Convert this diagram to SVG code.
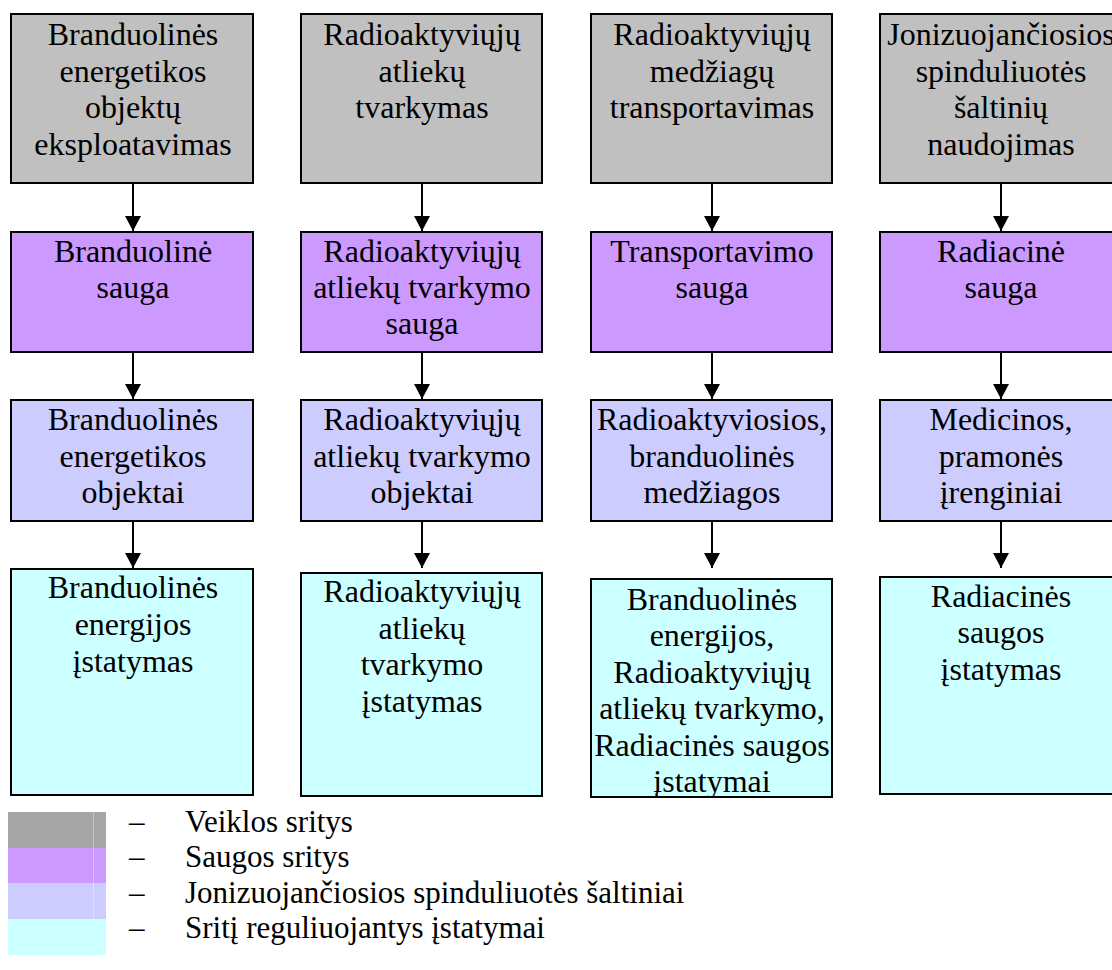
<svg xmlns="http://www.w3.org/2000/svg" width="1112" height="970" viewBox="0 0 1112 970">
<style>
.box{stroke:#000;stroke-width:2}
.g{fill:#C0C0C0}.p{fill:#CC99FF}.l{fill:#CCCCFF}.c{fill:#CCFFFF}
text{font-family:"Liberation Serif","Times New Roman",serif;font-size:32px;fill:#000}
.t{text-anchor:middle}
.lg{font-size:31px}
.conn line{stroke:#000;stroke-width:2}
</style>
<defs>
<marker id="ah" markerWidth="15" markerHeight="16" refX="15" refY="8" orient="auto" markerUnits="userSpaceOnUse">
<path d="M0,0 L15,8 L0,16 Z" fill="#000"/>
</marker>
<clipPath id="clip34"><rect x="591" y="579" width="241" height="218"/></clipPath>
</defs>
<rect width="1112" height="970" fill="#fff"/>

<g id="c1r1"><rect class="box g" x="11" y="14" width="242" height="169"/>
<text class="t" x="133" y="45">Branduolinės</text><text class="t" x="133" y="81.5">energetikos</text><text class="t" x="133" y="118">objektų</text><text class="t" x="133" y="154.5">eksploatavimas</text></g>
<g id="c2r1"><rect class="box g" x="301" y="14" width="241" height="169"/>
<text class="t" x="422" y="45">Radioaktyviųjų</text><text class="t" x="422" y="81.5">atliekų</text><text class="t" x="422" y="118">tvarkymas</text></g>
<g id="c3r1"><rect class="box g" x="591" y="14" width="241" height="169"/>
<text class="t" x="712" y="45">Radioaktyviųjų</text><text class="t" x="712" y="81.5">medžiagų</text><text class="t" x="712" y="118">transportavimas</text></g>
<g id="c4r1"><rect class="box g" x="880" y="14" width="242" height="169"/>
<text class="t" x="1001" y="45">Jonizuojančiosios</text><text class="t" x="1001" y="81.5">spinduliuotės</text><text class="t" x="1001" y="118">šaltinių</text><text class="t" x="1001" y="154.5">naudojimas</text></g>

<g id="c1r2"><rect class="box p" x="11" y="232" width="242" height="120"/>
<text class="t" x="133" y="262">Branduolinė</text><text class="t" x="133" y="298">sauga</text></g>
<g id="c2r2"><rect class="box p" x="301" y="232" width="241" height="120"/>
<text class="t" x="422" y="262">Radioaktyviųjų</text><text class="t" x="422" y="298">atliekų tvarkymo</text><text class="t" x="422" y="334">sauga</text></g>
<g id="c3r2"><rect class="box p" x="591" y="232" width="241" height="120"/>
<text class="t" x="712" y="262">Transportavimo</text><text class="t" x="712" y="298">sauga</text></g>
<g id="c4r2"><rect class="box p" x="880" y="232" width="242" height="120"/>
<text class="t" x="1001" y="262">Radiacinė</text><text class="t" x="1001" y="298">sauga</text></g>

<g id="c1r3"><rect class="box l" x="11" y="400" width="242" height="121"/>
<text class="t" x="133" y="430">Branduolinės</text><text class="t" x="133" y="466.5">energetikos</text><text class="t" x="133" y="503">objektai</text></g>
<g id="c2r3"><rect class="box l" x="301" y="400" width="241" height="121"/>
<text class="t" x="422" y="430">Radioaktyviųjų</text><text class="t" x="422" y="466.5">atliekų tvarkymo</text><text class="t" x="422" y="503">objektai</text></g>
<g id="c3r3"><rect class="box l" x="591" y="400" width="241" height="121"/>
<text class="t" x="712" y="430">Radioaktyviosios,</text><text class="t" x="712" y="466.5">branduolinės</text><text class="t" x="712" y="503">medžiagos</text></g>
<g id="c4r3"><rect class="box l" x="880" y="400" width="242" height="121"/>
<text class="t" x="1001" y="430">Medicinos,</text><text class="t" x="1001" y="466.5">pramonės</text><text class="t" x="1001" y="503">įrenginiai</text></g>

<g id="c1r4"><rect class="box c" x="11" y="569" width="242" height="226"/>
<text class="t" x="133" y="598">Branduolinės</text><text class="t" x="133" y="635">energijos</text><text class="t" x="133" y="672">įstatymas</text></g>
<g id="c2r4"><rect class="box c" x="301" y="573" width="241" height="223"/>
<text class="t" x="422" y="602">Radioaktyviųjų</text><text class="t" x="422" y="639">atliekų</text><text class="t" x="422" y="675">tvarkymo</text><text class="t" x="422" y="712">įstatymas</text></g>
<g id="c3r4"><rect class="c" x="591" y="579" width="241" height="218"/>
<g clip-path="url(#clip34)">
<text class="t" x="712" y="610">Branduolinės</text><text class="t" x="712" y="646">energijos,</text><text class="t" x="712" y="683">Radioaktyviųjų</text><text class="t" x="712" y="719">atliekų tvarkymo,</text><text class="t" x="712" y="756">Radiacinės saugos</text><text class="t" x="712" y="792">įstatymai</text>
</g>
<rect x="591" y="579" width="241" height="218" fill="none" stroke="#000" stroke-width="2"/></g>
<g id="c4r4"><rect class="box c" x="880" y="577" width="242" height="217"/>
<text class="t" x="1001" y="607">Radiacinės</text><text class="t" x="1001" y="643">saugos</text><text class="t" x="1001" y="680">įstatymas</text></g>

<g id="connectors" class="conn">
<line x1="133" y1="183" x2="133" y2="231" marker-end="url(#ah)"/>
<line x1="422" y1="183" x2="422" y2="231" marker-end="url(#ah)"/>
<line x1="712" y1="183" x2="712" y2="231" marker-end="url(#ah)"/>
<line x1="1001" y1="183" x2="1001" y2="231" marker-end="url(#ah)"/>
<line x1="133" y1="352" x2="133" y2="399" marker-end="url(#ah)"/>
<line x1="422" y1="352" x2="422" y2="399" marker-end="url(#ah)"/>
<line x1="712" y1="352" x2="712" y2="399" marker-end="url(#ah)"/>
<line x1="1001" y1="352" x2="1001" y2="399" marker-end="url(#ah)"/>
<line x1="133" y1="521" x2="133" y2="568" marker-end="url(#ah)"/>
<line x1="422" y1="521" x2="422" y2="568" marker-end="url(#ah)"/>
<line x1="712" y1="521" x2="712" y2="568" marker-end="url(#ah)"/>
<line x1="1001" y1="521" x2="1001" y2="568" marker-end="url(#ah)"/>
</g>

<g id="legend">
<rect x="8" y="812" width="98" height="36" fill="#A6A6A6"/>
<rect x="8" y="848" width="98" height="35" fill="#CC99FF"/>
<rect x="8" y="883" width="98" height="36" fill="#CCCCFF"/>
<rect x="8" y="919" width="98" height="36" fill="#CCFFFF"/>
<line x1="93.5" y1="812" x2="93.5" y2="955" stroke="#fff" stroke-opacity="0.35" stroke-width="1"/>
<text class="lg" x="129" y="832">–</text><text class="lg" x="185" y="832">Veiklos sritys</text>
<text class="lg" x="129" y="867">–</text><text class="lg" x="185" y="867">Saugos sritys</text>
<text class="lg" x="129" y="903">–</text><text class="lg" x="185" y="903">Jonizuojančiosios spinduliuotės šaltiniai</text>
<text class="lg" x="129" y="938">–</text><text class="lg" x="185" y="938">Sritį reguliuojantys įstatymai</text>
</g>
</svg>
